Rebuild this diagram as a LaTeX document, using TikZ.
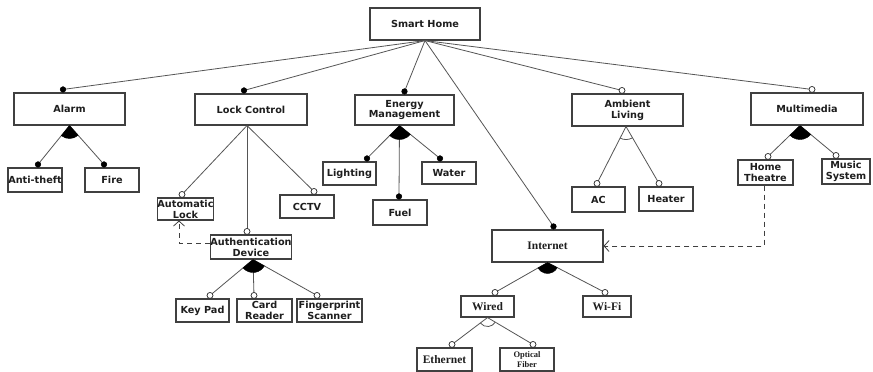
\documentclass[tikz,border=0pt]{standalone}
\usepackage{fontspec}
\usetikzlibrary{calc,arrows.meta}
\newfontfamily\lblsans{DejaVu Sans}
\newfontfamily\lblserif{Liberation Serif}
\definecolor{edge}{HTML}{555555}
\definecolor{frame}{HTML}{404040}
\definecolor{ink}{HTML}{1E1E1E}
\tikzset{
  feat/.style={draw=frame, line width=1.1pt, fill=white, inner sep=0pt, align=center,
    text=ink, font=\lblsans\bfseries\fontsize{9.7}{10.8}\selectfont},
  featserif/.style={feat, font=\lblserif\bfseries\fontsize{11.5}{12}\selectfont},
  link/.style={draw=edge, line width=0.8pt},
  mandot/.style={fill=black, draw=black, line width=0.5pt},
  optdot/.style={fill=white, draw=black!85, line width=0.7pt},
  orgroup/.style={fill=black, draw=black, line width=0.4pt},
  altgroup/.style={draw=edge, line width=0.8pt},
  dep/.style={draw=frame, line width=0.9pt, dash pattern=on 5pt off 4pt,
    -{Straight Barb[length=5pt,width=11pt,line width=0.8pt]}},
}
% end point of a child link: on the child's top edge, shifted sideways
\newcommand\childpt[3]{\coordinate (#1) at ([xshift=#3pt,yshift=3pt]#2.north);}
% link from a parent point to a child end point, with its marker
\newcommand\mandlink[2]{\draw[link] (#1) -- (#2); \draw[mandot] (#2) circle (2.8pt);}
\newcommand\optlink[2]{\draw[link] (#1) -- (#2); \draw[optdot] (#2) circle (3pt);}
% filled sector between the outer links of a group
\newcommand\orarc[4]{%
  \path[orgroup] let \p1=($(#2)-(#1)$), \p2=($(#3)-(#1)$),
    \n1={atan2(\y1,\x1)}, \n2={atan2(\y2,\x2)} in
    (#1) -- ++(\n1:#4pt) arc[start angle=\n1, end angle=\n2, radius=#4pt] -- cycle;}
% open arc between the outer links of a group
\newcommand\altarc[4]{%
  \path[altgroup] let \p1=($(#2)-(#1)$), \p2=($(#3)-(#1)$),
    \n1={atan2(\y1,\x1)}, \n2={atan2(\y2,\x2)} in
    ($(#1)+(\n1:#4pt)$) arc[start angle=\n1, end angle=\n2, radius=#4pt];}
\begin{document}
\begin{tikzpicture}[x=1pt, y=-1pt]
\useasboundingbox[fill=white] (0,0) rectangle (873,372);

% ---- features ----
\node[feat, minimum width=110pt, minimum height=32pt] (home) at (425,24) {Smart Home};

\node[feat, minimum width=111pt, minimum height=32pt] (alarm) at (69.5,109) {Alarm};
\node[feat, minimum width=54pt, minimum height=24pt] (antitheft) at (35,180) {Anti-theft};
\node[feat, minimum width=54pt, minimum height=24pt] (fire) at (112,180) {Fire};

\node[feat, minimum width=112pt, minimum height=31pt] (lock) at (251,109.5) {Lock Control};
\node[feat, minimum width=55pt, minimum height=22pt] (autolock) at (185.5,209) {Automatic\\Lock};
\node[feat, minimum width=54pt, minimum height=23pt] (cctv) at (307,206.5) {CCTV};
\node[feat, minimum width=78pt, minimum height=24pt] (auth) at (251,247) {Authentication\\Device};
\node[feat, minimum width=53pt, minimum height=23pt] (keypad) at (202.5,310.5) {Key Pad};
\node[feat, minimum width=55pt, minimum height=23pt] (cardreader) at (264.5,310.5) {Card\\Reader};
\node[feat, minimum width=65pt, minimum height=23pt] (finger) at (329.5,310.5) {Fingerprint\\Scanner};

\node[feat, minimum width=99pt, minimum height=30pt] (energy) at (404.5,110) {Energy\\Management};
\node[feat, minimum width=53pt, minimum height=23pt] (lighting) at (349.5,173.5) {Lighting};
\node[feat, minimum width=54pt, minimum height=22pt] (water) at (449,173) {Water};
\node[feat, minimum width=54pt, minimum height=25pt] (fuel) at (400,212.5) {Fuel};

\node[featserif, minimum width=111pt, minimum height=32pt] (internet) at (547.5,246) {Internet};
\node[featserif, minimum width=53pt, minimum height=21pt] (wired) at (487.5,306.5) {Wired};
\node[featserif, minimum width=48pt, minimum height=21pt] (wifi) at (607,306.5) {Wi-Fi};
\node[featserif, minimum width=55pt, minimum height=23pt] (ethernet) at (444.5,359.5) {Ethernet};
\node[featserif, minimum width=54pt, minimum height=23pt,
      font=\lblserif\bfseries\fontsize{8.5}{10.5}\selectfont] (optical) at (527,359.5) {Optical\\Fiber};

\node[feat, minimum width=111pt, minimum height=32pt] (ambient) at (627.5,110) {Ambient\\Living};
\node[feat, minimum width=53pt, minimum height=25pt] (ac) at (598.5,199.5) {AC};
\node[feat, minimum width=54pt, minimum height=24pt] (heater) at (666,199) {Heater};

\node[feat, minimum width=112pt, minimum height=32pt] (multimedia) at (807,109) {Multimedia};
\node[feat, minimum width=55pt, minimum height=25pt] (theatre) at (765.5,172.5) {Home\\Theatre};
\node[feat, minimum width=48pt, minimum height=25pt] (music) at (846,171.5) {Music\\System};

% ---- link end points ----
\coordinate (home-b) at (home.south);
\childpt{alarm-t}{alarm}{-6.5}
\childpt{lock-t}{lock}{-7}
\childpt{energy-t}{energy}{0}
\childpt{internet-t}{internet}{6}
\childpt{ambient-t}{ambient}{-5.5}
\childpt{multimedia-t}{multimedia}{5}

\coordinate (alarm-b) at (alarm.south);
\childpt{antitheft-t}{antitheft}{3}
\childpt{fire-t}{fire}{-8}

\coordinate (lock-b) at ([xshift=-4pt]lock.south);
\childpt{autolock-t}{autolock}{-3.5}
\childpt{auth-t}{auth}{-4}
\childpt{cctv-t}{cctv}{7}

\coordinate (auth-b) at ([xshift=2pt]auth.south);
\childpt{keypad-t}{keypad}{7.5}
\childpt{cardreader-t}{cardreader}{-10.5}
\childpt{finger-t}{finger}{-12.5}

\coordinate (energy-b) at ([xshift=-5pt]energy.south);
\childpt{lighting-t}{lighting}{17.5}
\childpt{fuel-t}{fuel}{-1}
\childpt{water-t}{water}{-9}

\coordinate (internet-b) at (internet.south);
\childpt{wired-t}{wired}{7.5}
\childpt{wifi-t}{wifi}{-2}

\coordinate (wired-b) at (wired.south);
\childpt{ethernet-t}{ethernet}{7.5}
\childpt{optical-t}{optical}{6}

\coordinate (ambient-b) at ([xshift=-1.5pt]ambient.south);
\childpt{ac-t}{ac}{-1.5}
\childpt{heater-t}{heater}{-7}

\coordinate (multimedia-b) at ([xshift=-7pt]multimedia.south);
\childpt{theatre-t}{theatre}{2.5}
\childpt{music-t}{music}{-10}

% ---- links ----
\mandlink{home-b}{alarm-t}
\mandlink{home-b}{lock-t}
\mandlink{home-b}{energy-t}
\mandlink{home-b}{internet-t}
\optlink{home-b}{ambient-t}
\optlink{home-b}{multimedia-t}

\mandlink{alarm-b}{antitheft-t}
\mandlink{alarm-b}{fire-t}
\orarc{alarm-b}{antitheft-t}{fire-t}{13}

\optlink{lock-b}{autolock-t}
\optlink{lock-b}{auth-t}
\optlink{lock-b}{cctv-t}

\optlink{auth-b}{keypad-t}
\optlink{auth-b}{cardreader-t}
\optlink{auth-b}{finger-t}
\orarc{auth-b}{keypad-t}{finger-t}{13}

\mandlink{energy-b}{lighting-t}
\mandlink{energy-b}{fuel-t}
\mandlink{energy-b}{water-t}
\orarc{energy-b}{lighting-t}{water-t}{14}

\optlink{internet-b}{wired-t}
\optlink{internet-b}{wifi-t}
\orarc{internet-b}{wired-t}{wifi-t}{11}

\optlink{wired-b}{ethernet-t}
\optlink{wired-b}{optical-t}
\altarc{wired-b}{ethernet-t}{optical-t}{9}

\optlink{ambient-b}{ac-t}
\optlink{ambient-b}{heater-t}
\altarc{ambient-b}{ac-t}{heater-t}{13}

\optlink{multimedia-b}{theatre-t}
\optlink{multimedia-b}{music-t}
\orarc{multimedia-b}{theatre-t}{music-t}{14}

% ---- dependencies ----
\draw[dep] ([yshift=4pt]auth.west) -| ([xshift=-6.5pt]autolock.south);
\draw[dep] ([xshift=-1.5pt]theatre.south) |- (internet.east);
\end{tikzpicture}
\end{document}
